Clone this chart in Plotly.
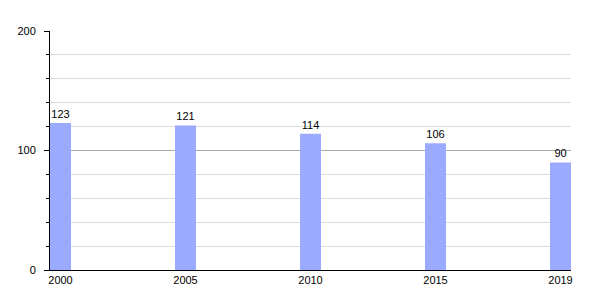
import plotly.graph_objects as go

years = ["2000", "2005", "2010", "2015", "2019"]
values = [123, 121, 114, 106, 90]

positions = list(range(len(years)))

fig = go.Figure()
fig.add_trace(go.Bar(
    x=positions, y=values, width=0.168,
    marker=dict(color="#99AAFF", line=dict(width=0)),
    text=[str(v) for v in values], textposition="outside",
    textfont=dict(family="Liberation Sans, Arial", size=11, color="#000"),
    cliponaxis=False,
))

fig.update_layout(
    width=600, height=300,
    margin=dict(l=50, r=29, t=31, b=30),
    paper_bgcolor="white", plot_bgcolor="white",
    showlegend=False,
    font=dict(family="Liberation Sans, Arial", size=11, color="#000"),
    xaxis=dict(
        range=[-0.084, 4.084], tickmode="array", tickvals=positions, ticktext=years,
        showgrid=False, showline=True, linecolor="#000", linewidth=1,
        ticks="", zeroline=False, ticklabelstandoff=0,
    ),
    yaxis=dict(
        range=[0, 200], dtick=100, showgrid=True, gridcolor="#AAAAAA", gridwidth=1,
        showline=True, linecolor="#000", linewidth=1, zeroline=False,
        ticks="outside", ticklen=5, tickcolor="#000", ticklabelstandoff=6,
        minor=dict(dtick=20, showgrid=True, gridcolor="#DDDDDD", gridwidth=1,
                   ticks="outside", ticklen=3, tickcolor="#000"),
    ),
)

fig.write_html("out.html")
